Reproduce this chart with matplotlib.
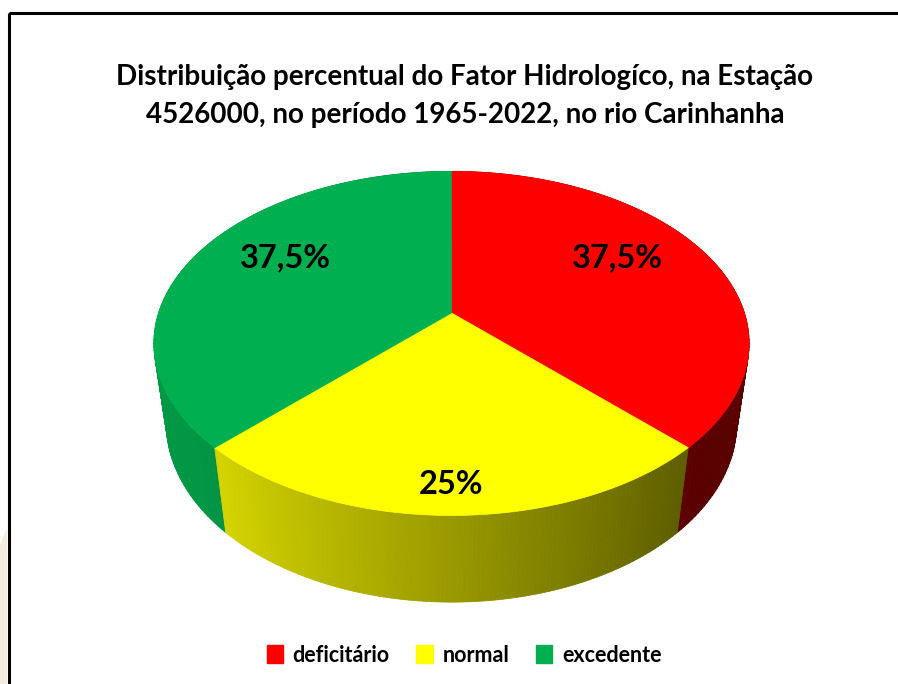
import numpy as np
import matplotlib.pyplot as plt
from matplotlib.patches import Polygon, Rectangle, Patch
from matplotlib.colors import to_rgb

# ==== dados ====
categorias = ["deficitário", "normal", "excedente"]
percentuais = [37.5, 25.0, 37.5]
rotulos = ["37,5%", "25%", "37,5%"]
cores = ["#FF0000", "#FFFF00", "#00B050"]
titulo = ("Distribuição percentual do Fator Hidrologíco, na Estação\n"
          "4526000, no período 1965-2022, no rio Carinhanha")

# ==== geometria da pizza 3D (pixels) ====
W, H = 898, 684
CX, CY = 451.5, 313.0
SIN_E = 0.569
COS_E = np.sqrt(1 - SIN_E ** 2)
DIST = 4.65
FOCO = 1362.0
ALTURA = 0.347
raio_rotulo = [0.64, 0.87, 0.64]
dy_rotulo = [-16, 0, -16]

plt.rcParams['font.family'] = ['Lato', 'DejaVu Sans']


def projeta(t, z=0.0, r=1.0):
    X = r * np.cos(t)
    Y = r * np.sin(t)
    prof = DIST + Y * COS_E - z * SIN_E
    u = X / prof * FOCO
    v = (Y * SIN_E + z * COS_E) / prof * FOCO
    return CX + u, CY - v, prof


def sombra(t):
    return np.clip(0.6 - 0.33 * np.cos(t), 0.35, 0.86)


fig = plt.figure(figsize=(W / 100, H / 100), dpi=100)
ax = fig.add_axes([0, 0, 1, 1])
ax.set_xlim(0, W)
ax.set_ylim(H, 0)
ax.axis("off")

# angulos das fatias (sentido horario a partir do topo)
fracoes = np.array(percentuais) / np.sum(percentuais)
limites = np.pi / 2 - 2 * np.pi * np.concatenate([[0], np.cumsum(fracoes)])

# ---- paredes laterais (do fundo para a frente) ----
quads = []
for i, cor in enumerate(cores):
    t0, t1 = limites[i], limites[i + 1]
    ts = np.linspace(t0, t1, 120)
    for a, b in zip(ts[:-1], ts[1:]):
        xa, ya, pa = projeta(a)
        xb, yb, pb = projeta(b)
        xc, yc, _ = projeta(b, -ALTURA)
        xd, yd, _ = projeta(a, -ALTURA)
        tm = 0.5 * (a + b)
        c = np.array(to_rgb(cor)) * sombra(tm)
        quads.append((0.5 * (pa + pb), [(xa, ya), (xb, yb), (xc, yc), (xd, yd)], c))

quads.sort(key=lambda q: -q[0])
for _, pts, c in quads:
    ax.add_patch(Polygon(pts, closed=True, facecolor=c, edgecolor=c, lw=0.6))

# ---- faces de cima ----
for i, cor in enumerate(cores):
    ts = np.linspace(limites[i], limites[i + 1], 200)
    xs, ys, _ = projeta(ts)
    pts = [(CX, CY)] + list(zip(xs, ys))
    ax.add_patch(Polygon(pts, closed=True, facecolor=cor, edgecolor=cor, lw=0.5))

# ---- rotulos ----
for i, txt in enumerate(rotulos):
    tm = 0.5 * (limites[i] + limites[i + 1])
    x, y, _ = projeta(tm, 0.0, raio_rotulo[i])
    ax.text(x, y + dy_rotulo[i], txt, ha="center", va="center",
            fontsize=23.5, fontweight="bold", color="black")

# ---- titulo ----
fig.text(465 / W, 1 - 96 / H, titulo, ha="center", va="center",
         fontsize=20, fontweight="bold", linespacing=1.55)

# ---- legenda ----
alcas = [Patch(facecolor=c, edgecolor=c) for c in cores]
fig.legend(alcas, categorias, loc="center", bbox_to_anchor=(464 / W, 1 - 655 / H),
           ncol=3, frameon=False, handlelength=0.75, handleheight=0.85,
           handletextpad=0.45, columnspacing=1.25,
           prop={"size": 15.5, "weight": "bold"})

# ---- moldura ----
ax.add_patch(Rectangle((9, 13), W + 20, H + 20, fill=False, edgecolor="black",
                       lw=2.2, clip_on=False))
ax.add_patch(Polygon([(0, 545), (7, 528), (7, H), (0, H)], closed=True,
                     facecolor="#F4ECDF", edgecolor="none"))

fig.savefig("out.png", dpi=100)
